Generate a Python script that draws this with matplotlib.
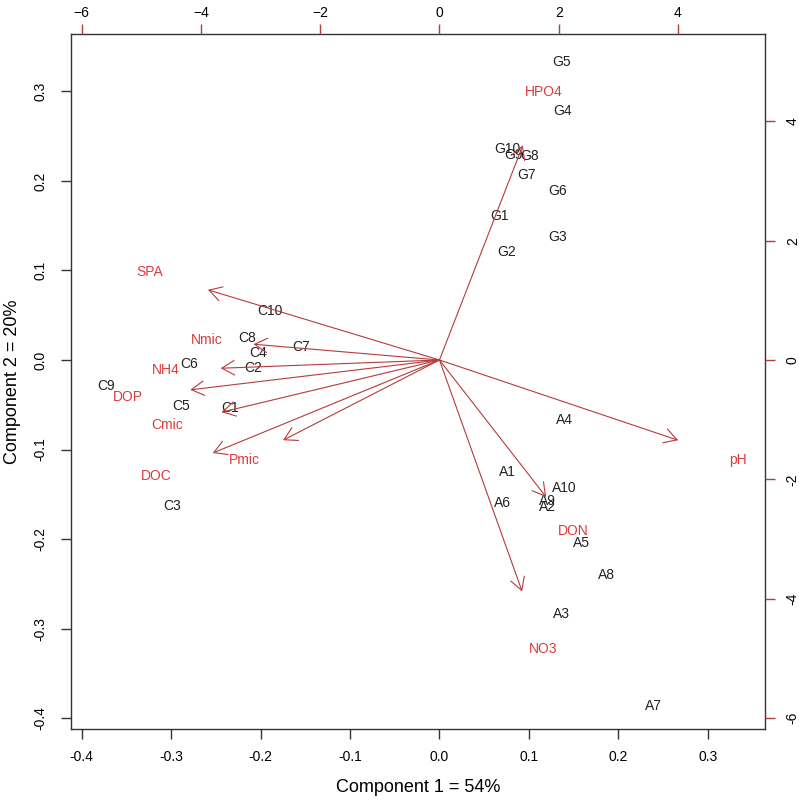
import matplotlib
matplotlib.use("Agg")
import matplotlib.pyplot as plt

plt.rcParams['font.family'] = ['Liberation Sans', 'DejaVu Sans']

# Observation scores (component 1, component 2)
obs_names = ['G1', 'G2', 'G3', 'G4', 'G5', 'G6', 'G7', 'G8', 'G9', 'G10',
             'C1', 'C2', 'C3', 'C4', 'C5', 'C6', 'C7', 'C8', 'C9', 'C10',
             'A1', 'A2', 'A3', 'A4', 'A5', 'A6', 'A7', 'A8', 'A9', 'A10']
obs_pc1 = [0.0675, 0.0753, 0.1323, 0.1379, 0.1368, 0.1323, 0.0977, 0.1010, 0.0832, 0.0765,
           -0.2342, -0.2085, -0.2990, -0.2029, -0.2890, -0.2800, -0.1549, -0.2153, -0.3728, -0.1895,
           0.0765, 0.1212, 0.1368, 0.1401, 0.1592, 0.0709, 0.2397, 0.1871, 0.1212, 0.1401]
obs_pc2 = [0.1604, 0.1202, 0.1372, 0.2777, 0.3324, 0.1884, 0.2062, 0.2274, 0.2285, 0.2352,
           -0.0539, -0.0093, -0.1633, 0.0075, -0.0517, -0.0048, 0.0142, 0.0242, -0.0294, 0.0544,
           -0.1254, -0.1644, -0.2839, -0.0673, -0.2046, -0.1600, -0.3863, -0.2404, -0.1577, -0.1432]

# Variable loadings (label positions, arrows drawn to 0.8 of them)
var_names = ['SPA', 'Nmic', 'NH4', 'DOP', 'Cmic', 'DOC', 'Pmic', 'pH', 'DON', 'NO3', 'HPO4']
var_pc1 = [-4.855, -3.898, -4.587, -5.224, -4.570, -4.753, -3.279, 5.003, 2.237, 1.733, 1.748]
var_pc2 = [1.469, 0.330, -0.173, -0.625, -1.094, -1.948, -1.680, -1.680, -2.869, -4.845, 4.495]

score_ticks = [-0.4, -0.3, -0.2, -0.1, 0.0, 0.1, 0.2, 0.3]
load_ticks = [-6, -4, -2, 0, 2, 4]

red = '#dc3a3a'
arrow_red = '#b83a3a'
box_pos = [0.0889, 0.0888, 0.8685, 0.8687]

fig = plt.figure(figsize=(7.99, 8.0), dpi=100)
ax = fig.add_axes(box_pos)
ax.set_xlim(-0.412, 0.364)
ax.set_ylim(-0.412, 0.364)
ax.set_xticks(score_ticks)
ax.set_yticks(score_ticks)
ax.set_xticklabels([f'{t:.1f}' for t in score_ticks])
ax.set_yticklabels([f'{t:.1f}' for t in score_ticks], rotation=90, va='center')
ax.tick_params(direction='out', length=7, width=1, color='#333333', labelsize=10, pad=8)
ax.tick_params(axis='y', pad=10)
for s in ax.spines.values():
    s.set_color('#333333')
    s.set_linewidth(1)
ax.set_xlabel('Component 1 = 54%', fontsize=13, labelpad=11)
ax.set_ylabel('Component 2 = 20%', fontsize=13, labelpad=9)

for name, x, y in zip(obs_names, obs_pc1, obs_pc2):
    ax.text(x, y, name, ha='center', va='center', fontsize=10, color='#222222')

# loadings axes on top/right
ax2 = fig.add_axes(box_pos, frameon=False)
ax2.patch.set_alpha(0)
ax2.set_xlim(-6.18, 5.46)
ax2.set_ylim(-6.18, 5.46)
ax2.xaxis.tick_top()
ax2.yaxis.tick_right()
ax2.set_xticks(load_ticks)
ax2.set_yticks(load_ticks)
ax2.set_yticklabels([str(t) for t in load_ticks], rotation=90, va='center')
ax2.tick_params(direction='out', length=7, width=1, color=arrow_red, labelsize=10, pad=8)
ax2.tick_params(axis='x', pad=3)

for name, u, v in zip(var_names, var_pc1, var_pc2):
    ax2.annotate('', xy=(0.8 * u, 0.8 * v), xytext=(0, 0),
                 arrowprops=dict(arrowstyle='->,head_length=0.45,head_width=0.26',
                                 color=arrow_red, lw=0.8, shrinkA=0, shrinkB=0,
                                 mutation_scale=20))
    ax2.text(u, v, name, ha='center', va='center', fontsize=10, color=red)

fig.savefig('out.png', dpi=100)
